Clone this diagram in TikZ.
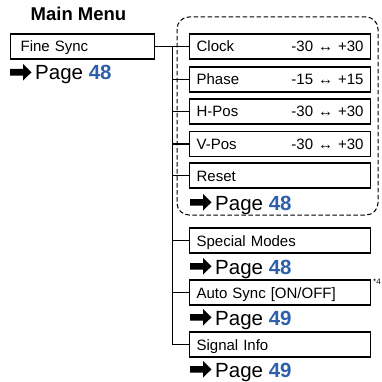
\documentclass[tikz,border=0pt]{standalone}
\usepackage{fontspec}
\setmainfont{Liberation Sans}
\usetikzlibrary{positioning}
\definecolor{pgblue}{RGB}{45,95,170}
\tikzset{
  menubox/.style={draw, line width=1.2pt, anchor=west, inner ysep=0pt, align=left, text height=11pt, text depth=0pt, minimum height=25pt, font=\fontsize{15}{17}\selectfont},
  subbox/.style={menubox, inner xsep=7pt, text width=167pt},
  pageref/.style={anchor=base west, inner sep=0pt, font=\fontsize{20.5}{24}\selectfont},
  trunk/.style={line width=1.4pt},
  dashbox/.style={line width=1pt, dash pattern=on 4.5pt off 2.5pt, rounded corners=12pt},
  pgarrow/.pic={\fill (-25,-11) -- (-12,-11) -- (-12,-16) -- (-3.5,-7.7) -- (-12,0.6) -- (-12,-4.4) -- (-25,-4.4) -- cycle;}
}
\begin{document}
\begin{tikzpicture}[x=1pt,y=-1pt]
\useasboundingbox (0,0) rectangle (381,382);
\node[anchor=base, font=\bfseries\fontsize{18.5}{20}\selectfont] (title) at (78.5,21) {Main Menu};
\node[menubox, inner xsep=10pt, text width=124pt] (fine) at (10,46.5) {Fine Sync};
\draw[dashbox] (177,17) rectangle (378,215);
\foreach \n/\y/\t/\v in {clock/46.5/Clock/{-30 ↔ +30}, phase/79.5/Phase/{-15 ↔ +15}, hpos/111.5/H-Pos/{-30 ↔ +30}, vpos/144/V-Pos/{-30 ↔ +30}, reset/175.5/Reset/{}, special/240.5/Special Modes/{}, auto/292.5/{Auto Sync [ON/OFF]}/{}, signal/344.5/Signal Info/{}}
  \node[subbox] (\n) at (189,\y) {\t\hfill\v};
\coordinate (tr) at (172.5,46.5);
\draw[trunk] (fine.east) -- (clock.west);
\draw[trunk] (tr) |- (signal.west);
\foreach \n in {phase,hpos,vpos,reset,special,auto}
  \draw[trunk] (\n.west) -- (\n.west -| tr);
\node[anchor=north west, inner sep=0pt, font=\fontsize{8}{9}\selectfont] (note) at (373,279) {*4};
\foreach \n/\x/\y/\p in {pg1/35/80/48, pg2/215/210/48, pg3/215/274/48, pg4/215/325/49, pg5/215/377/49}{
  \node[pageref] (\n) at (\x,\y) {Page \textbf{\color{pgblue}\p}};
  \pic at (\n.base west) {pgarrow};
}
\end{tikzpicture}
\end{document}
